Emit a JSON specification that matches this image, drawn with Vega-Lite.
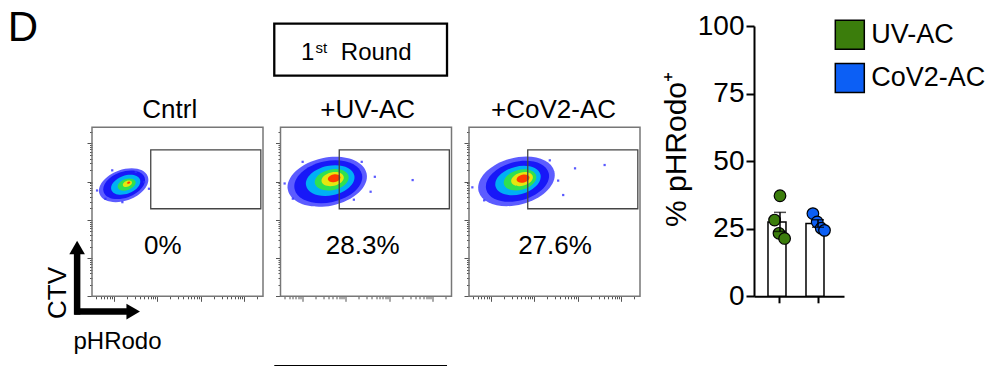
{
  "$schema": "https://vega.github.io/schema/vega-lite/v6.json",
  "padding": {"left": 7, "top": 6, "right": 0, "bottom": 0},
  "spacing": 20,
  "config": {"font": "Liberation Sans", "view": {"stroke": null}, "axis": {"grid": false}},
  "resolve": {"scale": {"color": "independent", "size": "independent", "shape": "independent"}, "legend": {"color": "independent"}},
  "hconcat": [
    {
      "data": {"values": [
        {"panel": "Cntrl", "kind": "blob", "level": 0, "x": 1.228, "y": 3.905, "w": 1.18, "tilt": -20},
        {"panel": "Cntrl", "kind": "blob", "level": 1, "x": 1.239, "y": 3.918, "w": 1.0, "tilt": -20},
        {"panel": "Cntrl", "kind": "blob", "level": 2, "x": 1.274, "y": 3.918, "w": 0.70, "tilt": -20},
        {"panel": "Cntrl", "kind": "blob", "level": 3, "x": 1.297, "y": 3.923, "w": 0.43, "tilt": -20},
        {"panel": "Cntrl", "kind": "blob", "level": 4, "x": 1.314, "y": 3.944, "w": 0.22, "tilt": -20},
        {"panel": "Cntrl", "kind": "blob", "level": 5, "x": 1.344, "y": 3.971, "w": 0.08, "tilt": -20},
        {"panel": "+UV-AC", "kind": "blob", "level": 0, "x": 1.575, "y": 3.996, "w": 1.85, "tilt": -12},
        {"panel": "+UV-AC", "kind": "blob", "level": 1, "x": 1.598, "y": 3.996, "w": 1.584, "tilt": -12},
        {"panel": "+UV-AC", "kind": "blob", "level": 2, "x": 1.643, "y": 4.027, "w": 1.132, "tilt": -12},
        {"panel": "+UV-AC", "kind": "blob", "level": 3, "x": 1.677, "y": 4.048, "w": 0.792, "tilt": -12},
        {"panel": "+UV-AC", "kind": "blob", "level": 4, "x": 1.699, "y": 4.066, "w": 0.520, "tilt": -12},
        {"panel": "+UV-AC", "kind": "blob", "level": 5, "x": 1.733, "y": 4.087, "w": 0.294, "tilt": -12},
        {"panel": "+CoV2-AC", "kind": "blob", "level": 0, "x": 1.591, "y": 4.007, "w": 1.80, "tilt": -15},
        {"panel": "+CoV2-AC", "kind": "blob", "level": 1, "x": 1.614, "y": 4.007, "w": 1.485, "tilt": -15},
        {"panel": "+CoV2-AC", "kind": "blob", "level": 2, "x": 1.626, "y": 4.026, "w": 1.068, "tilt": -15},
        {"panel": "+CoV2-AC", "kind": "blob", "level": 3, "x": 1.672, "y": 4.046, "w": 0.766, "tilt": -15},
        {"panel": "+CoV2-AC", "kind": "blob", "level": 4, "x": 1.719, "y": 4.065, "w": 0.511, "tilt": -15},
        {"panel": "+CoV2-AC", "kind": "blob", "level": 5, "x": 1.742, "y": 4.078, "w": 0.302, "tilt": -15},
        {"panel": "Cntrl", "kind": "dot", "x": 0.616, "y": 3.768},
        {"panel": "Cntrl", "kind": "dot", "x": 1.700, "y": 3.989},
        {"panel": "Cntrl", "kind": "dot", "x": 1.198, "y": 3.462},
        {"panel": "Cntrl", "kind": "dot", "x": 0.809, "y": 3.549},
        {"panel": "Cntrl", "kind": "dot", "x": 1.507, "y": 4.253},
        {"panel": "Cntrl", "kind": "dot", "x": 0.965, "y": 4.295},
        {"panel": "Cntrl", "kind": "dot", "x": 1.809, "y": 3.813},
        {"panel": "+UV-AC", "kind": "dot", "x": 0.595, "y": 3.951},
        {"panel": "+UV-AC", "kind": "dot", "x": 2.668, "y": 4.126},
        {"panel": "+UV-AC", "kind": "dot", "x": 2.571, "y": 3.735},
        {"panel": "+UV-AC", "kind": "dot", "x": 3.537, "y": 4.040},
        {"panel": "+UV-AC", "kind": "dot", "x": 0.783, "y": 3.553},
        {"panel": "+UV-AC", "kind": "dot", "x": 1.009, "y": 4.517},
        {"panel": "+UV-AC", "kind": "dot", "x": 2.367, "y": 4.517},
        {"panel": "+UV-AC", "kind": "dot", "x": 2.186, "y": 3.527},
        {"panel": "+CoV2-AC", "kind": "dot", "x": 2.937, "y": 4.347},
        {"panel": "+CoV2-AC", "kind": "dot", "x": 3.617, "y": 4.434},
        {"panel": "+CoV2-AC", "kind": "dot", "x": 2.665, "y": 3.649},
        {"panel": "+CoV2-AC", "kind": "dot", "x": 2.549, "y": 4.026},
        {"panel": "+CoV2-AC", "kind": "dot", "x": 0.577, "y": 3.850},
        {"panel": "+CoV2-AC", "kind": "dot", "x": 0.848, "y": 3.510},
        {"panel": "+CoV2-AC", "kind": "dot", "x": 2.357, "y": 4.556},
        {"panel": "Cntrl", "kind": "gate", "x": 1.85, "x2": 4.38, "y": 3.29, "y2": 4.83},
        {"panel": "+UV-AC", "kind": "gate", "x": 1.85, "x2": 4.38, "y": 3.29, "y2": 4.83},
        {"panel": "+CoV2-AC", "kind": "gate", "x": 1.85, "x2": 4.38, "y": 3.29, "y2": 4.83},
        {"panel": "Cntrl", "kind": "title", "label": "Cntrl", "x": 2.288, "y": 5.673},
        {"panel": "+UV-AC", "kind": "title", "label": "+UV-AC", "x": 2.504, "y": 5.673},
        {"panel": "+CoV2-AC", "kind": "title", "label": "+CoV2-AC", "x": 2.442, "y": 5.673},
        {"panel": "Cntrl", "kind": "pct", "label": "0%", "x": 2.125, "y": 2.098},
        {"panel": "+UV-AC", "kind": "pct", "label": "28.3%", "x": 2.389, "y": 2.098},
        {"panel": "+CoV2-AC", "kind": "pct", "label": "27.6%", "x": 2.477, "y": 2.098},
        {"panel": "Cntrl", "kind": "letter", "label": "D", "x": -1.437, "y": 7.687},
        {"panel": "Cntrl", "kind": "arrow", "x": 0.158, "x2": 0.158, "y": 0.521, "y2": 2.124},
        {"panel": "Cntrl", "kind": "arrow", "x": 0.093, "x2": 1.304, "y": 0.600, "y2": 0.600},
        {"panel": "Cntrl", "kind": "head", "dir": "up", "x": 0.158, "y": 2.274},
        {"panel": "Cntrl", "kind": "head", "dir": "right", "x": 1.447, "y": 0.600},
        {"panel": "Cntrl", "kind": "axlabel", "label": "CTV", "x": -0.098, "y": 1.086},
        {"panel": "Cntrl", "kind": "label24", "label": "pHRodo", "x": 0.075, "y": -0.386},
        {"panel": "+UV-AC", "kind": "box", "x": 0.357, "x2": 4.327, "y": 6.771, "y2": 8.131},
        {"panel": "+UV-AC", "kind": "label24", "label": "1", "x": 0.971, "y": 7.190},
        {"panel": "+UV-AC", "kind": "sup", "label": "st", "x": 1.304, "y": 7.362},
        {"panel": "+UV-AC", "kind": "label24", "label": "Round", "x": 1.886, "y": 7.190},
        {"panel": "+UV-AC", "kind": "nextbox", "x": 0.357, "x2": 4.327, "y": -0.83, "y2": -0.83}
      ]},
      "facet": {"column": {"field": "panel", "type": "nominal", "title": null, "sort": ["Cntrl", "+UV-AC", "+CoV2-AC"], "header": {"labels": false, "labelPadding": 0, "titlePadding": 0}}},
      "spacing": 17.5,
      "bounds": "flush",
      "resolve": {"axis": {"x": "independent", "y": "independent"}},
      "spec": {
        "width": 171,
        "height": 270.3,
        "encoding": {
          "x": {"field": "x", "type": "quantitative", "scale": {"domain": [0.5, 4.43], "nice": false, "zero": false},
                "axis": {"title": null, "labels": false, "domain": false, "grid": false,
                         "values": [0.602, 0.699, 0.778, 0.845, 0.903, 0.954, 1, 1.301, 1.477, 1.602, 1.699, 1.778, 1.845, 1.903, 1.954, 2, 2.301, 2.477, 2.602, 2.699, 2.778, 2.845, 2.903, 2.954, 3, 3.301, 3.477, 3.602, 3.699, 3.778, 3.845, 3.903, 3.954, 4, 4.301],
                         "tickColor": "#555", "tickWidth": 1,
                         "tickSize": {"condition": {"test": "datum.value % 1 === 0", "value": 5}, "value": 2.5}}},
          "y": {"field": "y", "type": "quantitative", "scale": {"domain": [1, 8.07], "nice": false, "zero": false},
                "axis": {"title": null, "labels": false, "domain": false, "grid": false,
                         "values": [1, 1.301, 1.477, 1.602, 1.699, 1.778, 1.845, 1.903, 1.954, 2, 2.301, 2.477, 2.602, 2.699, 2.778, 2.845, 2.903, 2.954, 3, 3.301, 3.477, 3.602, 3.699, 3.778, 3.845, 3.903, 3.954, 4, 4.301, 4.477, 4.602, 4.699, 4.778, 4.845, 4.903, 4.954, 5, 5.301],
                         "tickColor": "#555", "tickWidth": 1,
                         "tickSize": {"condition": {"test": "datum.value % 1 === 0", "value": 5}, "value": 2.5}}}
        },
        "layer": [
          {"transform": [{"filter": "datum.kind === 'blob'"}],
           "mark": {"type": "point", "filled": true, "strokeWidth": 0, "opacity": 1,
                    "shape": "M -1 0 C -1 -0.3314 -0.5523 -0.6 0 -0.6 C 0.5523 -0.6 1 -0.3314 1 0 C 1 0.3314 0.5523 0.6 0 0.6 C -0.5523 0.6 -1 0.3314 -1 0 Z"},
           "encoding": {
             "color": {"field": "level", "type": "ordinal", "scale": {"domain": [0, 1, 2, 3, 4, 5], "range": ["#5c5cff", "#1818f8", "#00b0f5", "#30e050", "#e6e610", "#ff3c00"]}, "legend": null},
             "size": {"field": "w", "type": "quantitative", "scale": {"type": "pow", "exponent": 2, "domain": [0, 1], "range": [0, 1893]}, "legend": null},
             "angle": {"field": "tilt", "type": "quantitative", "scale": null},
             "order": {"field": "level", "type": "quantitative"}
           }},
          {"transform": [{"filter": "datum.kind === 'dot'"}],
           "mark": {"type": "square", "size": 5, "color": "#3030ff", "opacity": 0.8}},
          {"transform": [{"filter": "datum.kind === 'gate'"}],
           "mark": {"type": "rect", "filled": false, "stroke": "#777", "strokeWidth": 1.5},
           "encoding": {"x": {"datum": 0.5, "type": "quantitative"}, "x2": {"datum": 4.43}, "y": {"datum": 1, "type": "quantitative"}, "y2": {"datum": 5.419}}},
          {"transform": [{"filter": "datum.kind === 'gate'"}],
           "mark": {"type": "rect", "filled": false, "stroke": "#444", "strokeWidth": 1.3},
           "encoding": {"x2": {"field": "x2"}, "y2": {"field": "y2"}}},
          {"transform": [{"filter": "datum.kind === 'title' || datum.kind === 'pct'"}],
           "mark": {"type": "text", "fontSize": 26, "align": "center", "baseline": "alphabetic", "color": "black"},
           "encoding": {"text": {"field": "label"}}},
          {"transform": [{"filter": "datum.kind === 'letter'"}],
           "mark": {"type": "text", "fontSize": 42, "align": "left", "baseline": "alphabetic", "color": "black"},
           "encoding": {"text": {"field": "label"}}},
          {"transform": [{"filter": "datum.kind === 'label24'"}],
           "mark": {"type": "text", "fontSize": 24, "align": "left", "baseline": "alphabetic", "color": "black"},
           "encoding": {"text": {"field": "label"}}},
          {"transform": [{"filter": "datum.kind === 'sup'"}],
           "mark": {"type": "text", "fontSize": 15, "align": "left", "baseline": "alphabetic", "color": "black"},
           "encoding": {"text": {"field": "label"}}},
          {"transform": [{"filter": "datum.kind === 'axlabel'"}],
           "mark": {"type": "text", "fontSize": 26, "align": "center", "baseline": "alphabetic", "angle": 270, "color": "black"},
           "encoding": {"text": {"field": "label"}}},
          {"transform": [{"filter": "datum.kind === 'arrow'"}],
           "mark": {"type": "rule", "color": "black", "strokeWidth": 6.5},
           "encoding": {"x2": {"field": "x2"}, "y2": {"field": "y2"}}},
          {"transform": [{"filter": "datum.kind === 'head'"}],
           "mark": {"type": "point", "filled": true, "size": 243, "color": "black", "opacity": 1},
           "encoding": {"shape": {"field": "dir", "type": "nominal", "scale": {"domain": ["up", "right"], "range": ["triangle-up", "triangle-right"]}, "legend": null}}},
          {"transform": [{"filter": "datum.kind === 'box'"}],
           "mark": {"type": "rect", "filled": false, "stroke": "black", "strokeWidth": 2.3},
           "encoding": {"x2": {"field": "x2"}, "y2": {"field": "y2"}}},
          {"transform": [{"filter": "datum.kind === 'nextbox'"}],
           "mark": {"type": "rule", "color": "black", "strokeWidth": 2.5},
           "encoding": {"x2": {"field": "x2"}, "y2": {"field": "y2"}}}
        ]
      }
    },
    {
      "width": 90,
      "height": 270.3,
      "data": {"values": [
        {"group": "UV-AC", "value": 37.2, "jit": 0},
        {"group": "UV-AC", "value": 28.2, "jit": -5.4},
        {"group": "UV-AC", "value": 23.3, "jit": -1},
        {"group": "UV-AC", "value": 21.4, "jit": 4.6},
        {"group": "CoV2-AC", "value": 30.6, "jit": -5.1},
        {"group": "CoV2-AC", "value": 27.5, "jit": -0.8},
        {"group": "CoV2-AC", "value": 25.2, "jit": 3.2},
        {"group": "CoV2-AC", "value": 24.4, "jit": 6.5}
      ]},
      "encoding": {
        "x": {"field": "group", "type": "nominal", "sort": ["UV-AC", "CoV2-AC"],
              "scale": {"paddingInner": 0.368, "paddingOuter": 0.368},
              "axis": {"title": null, "labels": false, "domainColor": "black", "domainWidth": 2, "tickColor": "black", "tickWidth": 2, "tickSize": 6.5}},
        "y": {"field": "value", "type": "quantitative", "title": "% pHRodo⁺",
              "scale": {"domain": [0, 100], "nice": false},
              "axis": {"values": [0, 25, 50, 75, 100], "titleFontSize": 30, "titleFontWeight": "normal", "titleColor": "black", "titlePadding": 6, "titleY": 123,
                       "labelFontSize": 28, "labelColor": "black", "labelPadding": 2,
                       "tickSize": 8, "tickWidth": 2, "tickColor": "black", "domainColor": "black", "domainWidth": 2, "grid": false}}
      },
      "layer": [
        {"mark": {"type": "bar", "fill": "white", "stroke": "black", "strokeWidth": 1.5},
         "encoding": {"y": {"aggregate": "mean", "field": "value", "type": "quantitative", "title": "% pHRodo⁺"}}},
        {"mark": {"type": "point", "filled": true, "size": 135, "stroke": "black", "strokeWidth": 1.2, "opacity": 1},
         "encoding": {
           "xOffset": {"field": "jit", "type": "quantitative", "scale": {"domain": [-12, 12]}},
           "color": {"field": "group", "type": "nominal",
                     "scale": {"domain": ["UV-AC", "CoV2-AC"], "range": ["#3b7d0c", "#0c5ff5"]},
                     "legend": {"title": null, "orient": "none", "legendX": 80.3, "legendY": -6.7, "symbolType": "square", "symbolSize": 841,
                                "symbolStrokeColor": "black", "symbolStrokeWidth": 1.5, "symbolOpacity": 1, "labelFontSize": 27, "labelColor": "black",
                                "labelOffset": 6, "rowPadding": 8.2, "padding": 0}}
         }},
        {"mark": {"type": "errorbar", "extent": "stderr", "ticks": true, "size": 12, "thickness": 1.5, "color": "black"}}
      ]
    }
  ]
}
